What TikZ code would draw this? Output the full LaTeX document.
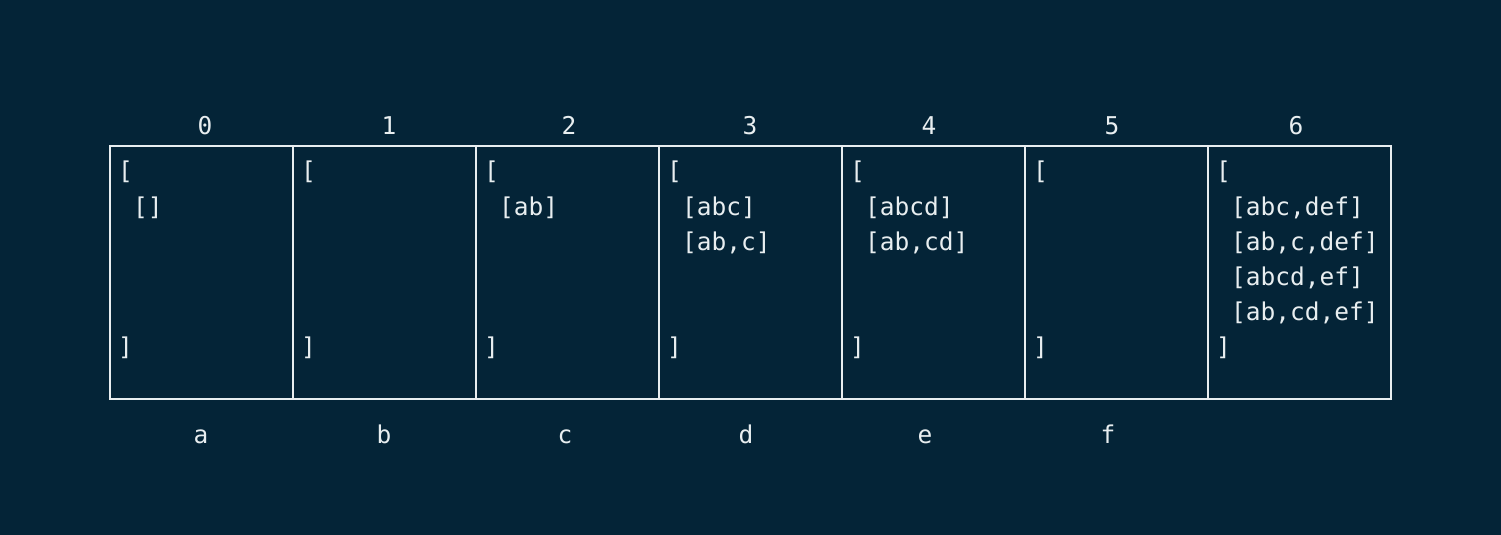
\documentclass[tikz,border=0pt]{standalone}
\usepackage{fontspec}
\setmonofont{DejaVu Sans Mono}
\definecolor{bg}{RGB}{4,36,55}
\definecolor{fg}{RGB}{232,238,240}
\begin{document}
\begin{tikzpicture}[x=1pt,y=-1pt,
  txt/.style={font=\ttfamily\fontsize{24.5}{29}\selectfont, text=fg, inner sep=0pt, anchor=west, text height=0.75em, text depth=0.25em},
  lbl/.style={txt, anchor=center},
  cellbox/.style={draw=fg, line width=2.4pt, minimum width=183pt, minimum height=253pt, inner sep=0pt, anchor=north west}]
\fill[bg] (0,0) rectangle (1501,535);
\useasboundingbox (0,0) rectangle (1501,535);
% cells
\foreach \i in {0,...,6}
  \node[cellbox] (c\i) at ({109+183*\i},145) {};
% headers
\foreach \i/\hx in {0/205,1/389,2/569,3/750,4/929,5/1112,6/1296}
  \node[lbl] (h\i) at (\hx,132) {\i};
% bottom labels
\foreach \i/\l/\bx in {0/a/201,1/b/384,2/c/565,3/d/746,4/e/925,5/f/1108}
  \node[lbl] (b\i) at (\bx,441) {\l};
% opening and closing brackets
\foreach \i in {0,...,6} {
  \node[txt] (o\i) at ({118+183*\i},177) {[};
  \node[txt] (e\i) at ({118+183*\i},353) {]};
}
% contents
\node[txt] (t0a) at (133,213) {[]};
\node[txt] (t2a) at ({133+183*2},213) {[ab]};
\node[txt] (t3a) at ({133+183*3},213) {[abc]};
\node[txt] (t3b) at ({133+183*3},248) {[ab,c]};
\node[txt] (t4a) at ({133+183*4},213) {[abcd]};
\node[txt] (t4b) at ({133+183*4},248) {[ab,cd]};
\node[txt] (t6a) at ({133+183*6},213) {[abc,def]};
\node[txt] (t6b) at ({133+183*6},248) {[ab,c,def]};
\node[txt] (t6c) at ({133+183*6},283) {[abcd,ef]};
\node[txt] (t6d) at ({133+183*6},318) {[ab,cd,ef]};
\end{tikzpicture}
\end{document}
